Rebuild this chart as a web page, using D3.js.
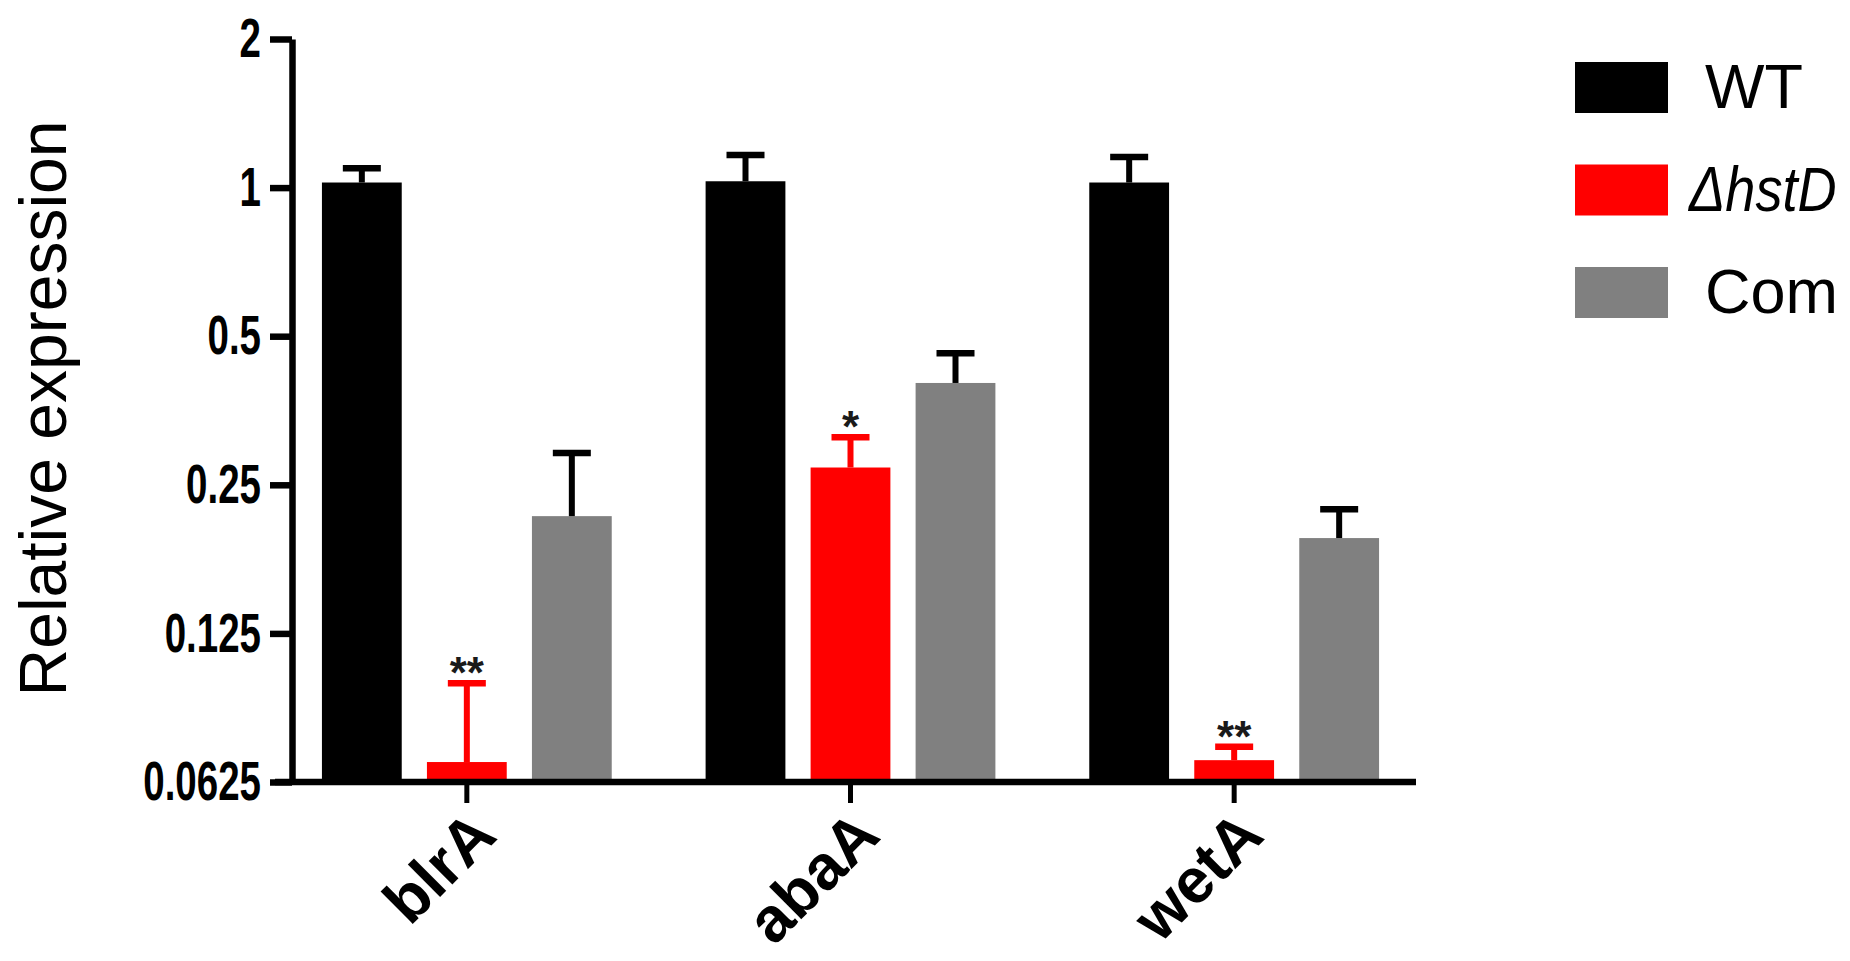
<!DOCTYPE html>
<html><head><meta charset="utf-8">
<script src="https://cdn.jsdelivr.net/npm/d3@7"></script>
<style>body{margin:0;background:#fff}svg{display:block}</style>
</head><body>
<svg id="chart" width="1850" height="961"></svg>
<script>
// ---- data ----
const categories = ["blrA", "abaA", "wetA"];
const seriesNames = ["WT", "ΔhstD", "Com"];
const seriesColors = ["#000000", "#ff0000", "#808080"];
const wtValues = [1.024, 1.030, 1.024];
const wtErrors = [0.071, 0.134, 0.129];
const hstDValues = [0.0686, 0.271, 0.0692];
const hstDErrors = [0.0305, 0.041, 0.0045];
const comValues = [0.216, 0.402, 0.195];
const comErrors = [0.074, 0.060, 0.028];
const hstDMarks = ["**", "*", "**"];
const yTickValues = [0.0625, 0.125, 0.25, 0.5, 1, 2];
const yTickLabels = ["0.0625", "0.125", "0.25", "0.5", "1", "2"];
const yTitle = "Relative expression";

const seriesValues = [wtValues, hstDValues, comValues];
const seriesErrors = [wtErrors, hstDErrors, comErrors];
const rows = [];
categories.forEach((c, ci) => seriesNames.forEach((s, si) => rows.push({
  cat: c, s, si, v: seriesValues[si][ci], e: seriesErrors[si][ci],
  mark: si === 1 ? hstDMarks[ci] : ""
})));

const svg = d3.select("#chart");
const FONT = "Arial, 'Liberation Sans', Helvetica, sans-serif";

const y = d3.scaleLog().base(2).domain([0.0625, 2]).range([782, 39]);
const x = d3.scaleBand().domain(categories).range([275, 1426]);
const xi = d3.scaleBand().domain(seriesNames).range([-157.5, 157.5]).paddingInner(0.24).paddingOuter(0.12);
const color = d3.scaleOrdinal().domain(seriesNames).range(seriesColors);

// bars
const g = svg.append("g");
const bars = g.selectAll("g.bar").data(rows).join("g")
  .attr("transform", d => `translate(${x(d.cat) + x.bandwidth() / 2},0)`);
bars.append("rect")
  .attr("x", d => xi(d.s))
  .attr("width", xi.bandwidth())
  .attr("y", d => y(d.v))
  .attr("height", d => y.range()[0] - y(d.v))
  .attr("fill", d => color(d.s));
// error bars (upper)
const capW = 38;
bars.append("line")
  .attr("x1", d => xi(d.s) + xi.bandwidth() / 2).attr("x2", d => xi(d.s) + xi.bandwidth() / 2)
  .attr("y1", d => y(d.v)).attr("y2", d => y(d.v + d.e))
  .attr("stroke", d => d.si === 1 ? "#ff0000" : "#000").attr("stroke-width", 6);
bars.append("line")
  .attr("x1", d => xi(d.s) + xi.bandwidth() / 2 - capW / 2).attr("x2", d => xi(d.s) + xi.bandwidth() / 2 + capW / 2)
  .attr("y1", d => y(d.v + d.e)).attr("y2", d => y(d.v + d.e))
  .attr("stroke", d => d.si === 1 ? "#ff0000" : "#000").attr("stroke-width", 6.5);
bars.filter(d => d.mark).append("text")
  .attr("x", d => xi(d.s) + xi.bandwidth() / 2)
  .attr("y", d => y(d.v + d.e) + 5)
  .attr("text-anchor", "middle")
  .attr("font-family", FONT).attr("font-weight", "bold").attr("font-size", 44)
  .attr("fill", "#1a1a1a")
  .text(d => d.mark);

// y axis
const yAxis = svg.append("g").attr("transform", "translate(292,0)")
  .call(d3.axisLeft(y).tickValues(yTickValues)
    .tickFormat((d, i) => yTickLabels[i]).tickSize(22).tickSizeOuter(0).tickPadding(8));
yAxis.select(".domain").attr("stroke", "#000").attr("stroke-width", 6.5);
yAxis.selectAll(".tick line").attr("stroke", "#000").attr("stroke-width", 6.5);
yAxis.selectAll(".tick text").attr("font-family", FONT).attr("font-weight", "bold")
  .attr("font-size", 55).attr("fill", "#000")
  .attr("x", 0).attr("transform", "translate(-31,0) scale(0.7,1)");

// x axis
const xAxis = svg.append("g").attr("transform", `translate(0,${y.range()[0]})`)
  .call(d3.axisBottom(x).tickSize(21).tickSizeOuter(0).tickPadding(4));
xAxis.select(".domain").attr("stroke", "#000").attr("stroke-width", 6.5)
  .attr("d", `M${x.range()[0]},0H${x.range()[1] - 10}`);
xAxis.selectAll(".tick line").attr("stroke", "#000").attr("stroke-width", 5);
xAxis.selectAll(".tick text")
  .attr("font-family", FONT).attr("font-weight", "bold").attr("font-size", 63).attr("fill", "#000")
  .attr("text-anchor", "end").attr("dy", null).attr("y", 0)
  .attr("transform", "translate(32,56) rotate(-45)");

// y title
svg.append("text")
  .attr("transform", `translate(66,${(y.range()[0] + y.range()[1]) / 2 - 2}) rotate(-90)`)
  .attr("text-anchor", "middle")
  .attr("font-family", FONT).attr("font-size", 66).attr("fill", "#000")
  .text(yTitle);

// legend
const ly = d3.scalePoint().domain(seriesNames).range([62, 267]);
const leg = svg.append("g").selectAll("g").data(seriesNames).join("g")
  .attr("transform", d => `translate(1575,${ly(d)})`);
leg.append("rect").attr("width", 93).attr("height", 51).attr("fill", d => color(d));
leg.append("text")
  .attr("transform", d => d === "ΔhstD" ? "translate(114,46) scale(0.86,1)" : "translate(130,46)")
  .attr("font-family", FONT).attr("font-size", 63).attr("fill", "#000")
  .attr("font-style", d => d === "ΔhstD" ? "italic" : "normal")
  .text(d => d);
</script>
</body></html>
